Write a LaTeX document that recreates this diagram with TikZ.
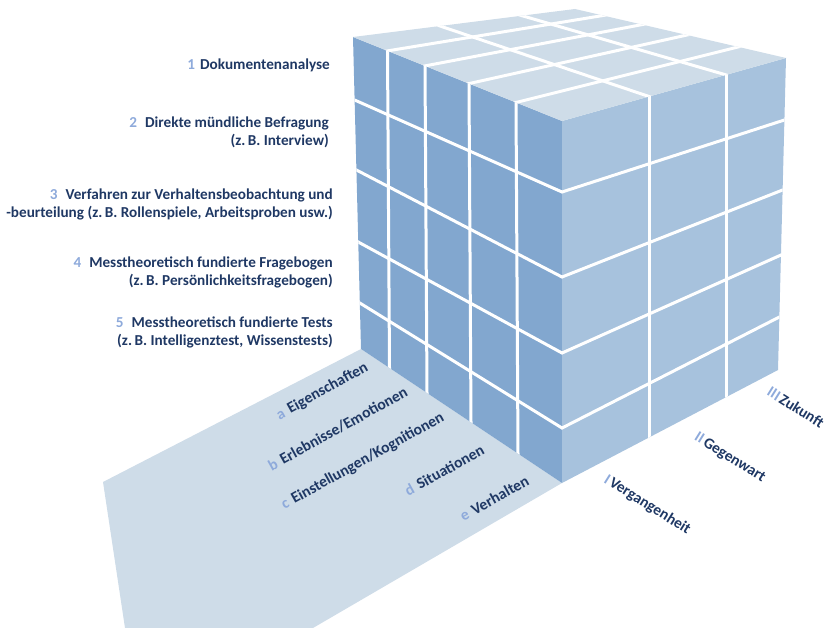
\documentclass[tikz,border=0pt]{standalone}
\usepackage{fontspec}
\setmainfont{Carlito}
\definecolor{leftc}{RGB}{130,167,207}
\definecolor{rightc}{RGB}{167,194,221}
\definecolor{topc}{RGB}{206,220,232}
\definecolor{floorc}{RGB}{206,220,232}
\definecolor{txt}{RGB}{31,56,100}
\definecolor{numc}{RGB}{142,170,219}
\begin{document}
\begin{tikzpicture}[x=1pt,y=-1pt,
  wl/.style={white, line width=3pt, shorten <=-8pt, shorten >=-8pt},
  lbl/.style={font=\fontsize{15.2}{18}\selectfont\bfseries, text=txt, inner sep=0pt},
  flbl/.style={font=\fontsize{15.6}{17}\selectfont\bfseries, text=txt, inner sep=0pt, anchor=base west},
  tlbl/.style={font=\fontsize{15.4}{17}\selectfont\bfseries, text=txt, inner sep=0pt, anchor=base west}]
\useasboundingbox (0,0) rectangle (825,628);
% corners
\coordinate (L) at (353,37);
\coordinate (F) at (562,121);
\coordinate (R) at (786,58);
\coordinate (B) at (575,9);
\coordinate (Lb) at (361,349);
\coordinate (Fb) at (562,483);
\coordinate (Rb) at (778,370);
% floor
\fill[floorc] (103,482) -- (Lb) -- (Fb) -- (313,628) -- (125,628) -- cycle;
% faces
\fill[leftc] (L) -- (F) -- (Fb) -- (Lb) -- cycle;
\fill[rightc] (F) -- (R) -- (Rb) -- (Fb) -- cycle;
\fill[topc] (L) -- (B) -- (R) -- (F) -- cycle;
% left face grid
\begin{scope}
\clip (L) -- (F) -- (Fb) -- (Lb) -- cycle;
\draw[wl] (354.6,100) -- (562,192);
\draw[wl] (356.4,170) -- (562,277);
\draw[wl] (358.2,242) -- (562,353);
\draw[wl] (359.8,303) -- (562,428);
\draw[wl] (387.5,50.9) -- (389.5,368);
\draw[wl] (425,65.9) -- (427,393);
\draw[wl] (469,83.6) -- (471,422.3);
\draw[wl] (516,102.5) -- (518,453.7);
\end{scope}
% top face grid
\begin{scope}
\clip (L) -- (B) -- (R) -- (F) -- cycle;
\draw[wl] (387.5,50.9) -- (603,15.5);
\draw[wl] (425,65.9) -- (642,24.6);
\draw[wl] (469,83.6) -- (687,35);
\draw[wl] (516,102.5) -- (738,47);
\draw[wl] (440,26) -- (649,96.5);
\draw[wl] (522,15.7) -- (726,74.9);
\end{scope}
% right face grid
\begin{scope}
\clip (F) -- (R) -- (Rb) -- (Fb) -- cycle;
\draw[wl] (649,96.5) -- (649,437.5);
\draw[wl] (726,74.9) -- (726,397.2);
\draw[wl] (562,192) -- (784.4,120);
\draw[wl] (562,277) -- (782.6,190);
\draw[wl] (562,353) -- (781,255);
\draw[wl] (562,428) -- (779.4,317);
\end{scope}
% method labels
\node[lbl, anchor=east] (m1) at (330,65) {\textcolor{numc}{1}\hspace{5pt}Dokumentenanalyse};
\node[lbl, anchor=east, align=right] (m2) at (329,132.5) {\textcolor{numc}{2}\hspace{8pt}Direkte mündliche Befragung\\(z.\,B. Interview)};
\node[lbl, anchor=east, align=right] (m3) at (333,204.5) {\textcolor{numc}{3}\hspace{8pt}Verfahren zur Verhaltensbeobachtung und\\-beurteilung (z.\,B. Rollenspiele, Arbeitsproben usw.)};
\node[lbl, anchor=east, align=right] (m4) at (333,272.5) {\textcolor{numc}{4}\hspace{8pt}Messtheoretisch fundierte Fragebogen\\(z.\,B. Persönlichkeitsfragebogen)};
\node[lbl, anchor=east, align=right] (m5) at (333,332) {\textcolor{numc}{5}\hspace{8pt}Messtheoretisch fundierte Tests\\(z.\,B. Intelligenztest, Wissenstests)};
% floor labels
\node[flbl, rotate=29] (fa) at (279.4,420.1) {\textcolor{numc}{a}\hspace{5pt}Eigenschaften};
\node[flbl, rotate=29] (fb) at (271.6,471.4) {\textcolor{numc}{b}\hspace{5pt}Erlebnisse/Emotionen};
\node[flbl, rotate=29] (fc) at (284.4,509.5) {\textcolor{numc}{c}\hspace{5pt}Einstellungen/Kognitionen};
\node[flbl, rotate=29] (fd) at (408.3,496.4) {\textcolor{numc}{d}\hspace{5pt}Situationen};
\node[flbl, rotate=29] (fe) at (463.4,521.5) {\textcolor{numc}{e}\hspace{5pt}Verhalten};
% time labels
\node[tlbl, rotate=-32] (t1) at (603,482) {\textcolor{numc}{I}\hspace{2pt}Vergangenheit};
\node[tlbl, rotate=-32] (t2) at (693.5,439.5) {\textcolor{numc}{II}\hspace{2pt}Gegenwart};
\node[tlbl, rotate=-32] (t3) at (765.9,394.7) {\textcolor{numc}{III}\hspace{2pt}Zukunft};
\end{tikzpicture}
\end{document}
